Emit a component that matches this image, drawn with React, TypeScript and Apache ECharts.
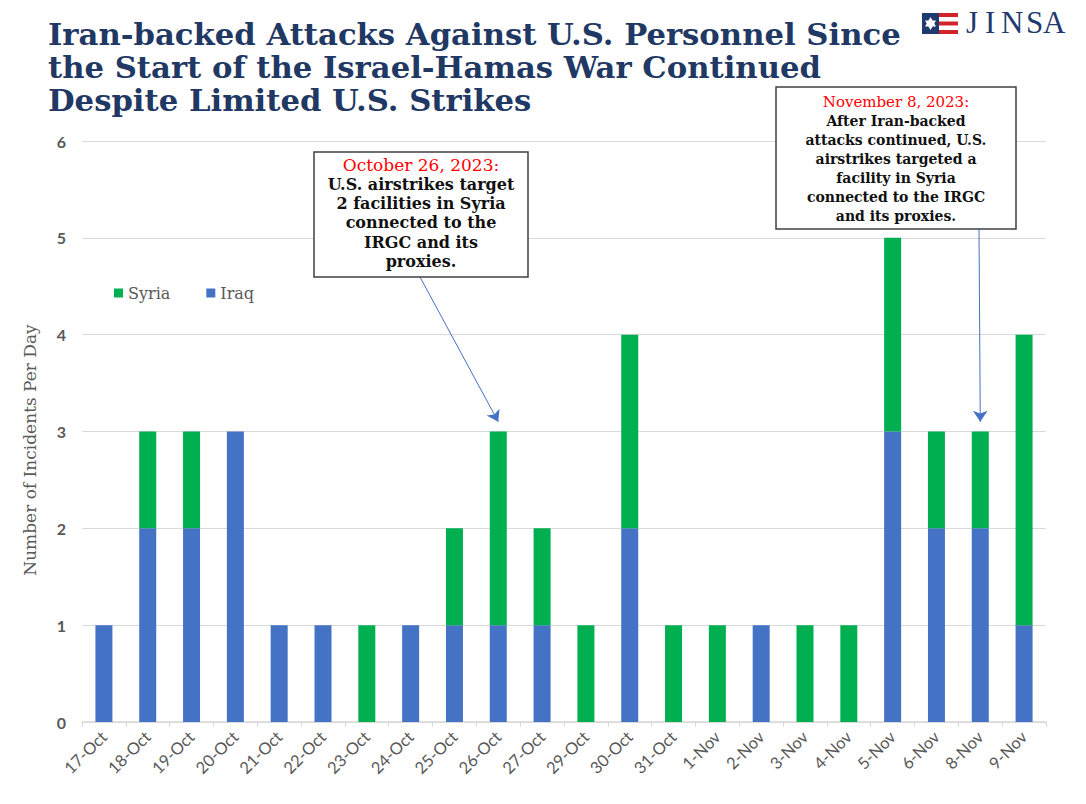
import React, { useEffect, useRef } from "react";
import * as echarts from "echarts";

const categories = ["17-Oct","18-Oct","19-Oct","20-Oct","21-Oct","22-Oct","23-Oct","24-Oct","25-Oct","26-Oct","27-Oct","29-Oct","30-Oct","31-Oct","1-Nov","2-Nov","3-Nov","4-Nov","5-Nov","6-Nov","8-Nov","9-Nov"];
const iraq = [1,2,2,3,1,1,0,1,1,1,1,0,2,0,0,1,0,0,3,2,2,1];
const syria = [0,1,1,0,0,0,1,0,1,2,1,1,2,1,1,0,1,1,2,1,1,3];
const yTicks = { min: 0, max: 6, interval: 1 };

const titleLines = [
  "Iran-backed Attacks Against U.S. Personnel Since",
  "the Start of the Israel-Hamas War Continued",
  "Despite Limited U.S. Strikes",
];
const yAxisName = "Number of Incidents Per Day";
const note1 = { date: "October 26, 2023:", lines: ["U.S. airstrikes target", "2 facilities in Syria", "connected to the", "IRGC and its", "proxies."], target: "26-Oct" };
const note2 = { date: "November 8, 2023:", lines: ["After Iran-backed", "attacks continued, U.S.", "airstrikes targeted a", "facility in Syria", "connected to the IRGC", "and its proxies."], target: "8-Nov" };

const IRAQ_COLOR = "#4472C4";
const SYRIA_COLOR = "#00B050";
const NAVY = "#1F3864";
const GRAY = "#595959";
const SERIF = "'DejaVu Serif', serif";

function noteText(n: { date: string; lines: string[] }) {
  return "{r|" + n.date + "}\n" + n.lines.map((l) => "{b|" + l + "}").join("\n");
}
function noteRich(size: number, lh: number) {
  return {
    r: { fill: "#FF0000", fontFamily: SERIF, fontSize: size + 1, fontWeight: "normal", lineHeight: lh },
    b: { fill: "#111111", fontFamily: SERIF, fontSize: size, fontWeight: "bold", lineHeight: lh },
  };
}

export default function App() {
  const ref = useRef<HTMLDivElement>(null);
  useEffect(() => {
    const chart = echarts.init(ref.current!, null, { renderer: "svg" });
    const graphic: any[] = [
      ...titleLines.map((t, i) => ({
        type: "text", left: 48, top: 18 + i * 33,
        style: { text: t, fill: NAVY, font: "bold 30.7px " + SERIF },
      })),
      // logo
      { type: "rect", shape: { x: 922, y: 13, width: 17, height: 21 }, style: { fill: "#1F3A6E" } },
      { type: "polygon", shape: { points: [[930.5, 17], [936, 26.5], [925, 26.5]] }, style: { fill: "#fff" } },
      { type: "polygon", shape: { points: [[930.5, 30], [936, 20.5], [925, 20.5]] }, style: { fill: "#fff" } },
      { type: "rect", shape: { x: 939, y: 13, width: 19, height: 4 }, style: { fill: "#D2232A" } },
      { type: "rect", shape: { x: 939, y: 21.5, width: 19, height: 4 }, style: { fill: "#D2232A" } },
      { type: "rect", shape: { x: 939, y: 30, width: 19, height: 4 }, style: { fill: "#D2232A" } },
      ...["J", "I", "N", "S", "A"].map((c, i) => ({
        type: "text", left: [966, 985, 1001, 1026, 1043][i], top: 7,
        style: { text: c, fill: "#1F3A6E", font: "normal 31px 'Liberation Serif', serif" },
      })),
      // y axis name
      {
        type: "text", x: 30, y: 450, rotation: Math.PI / 2,
        style: { text: yAxisName, fill: GRAY, font: "normal 17px " + SERIF, align: "center", verticalAlign: "middle" },
      },
      // annotation boxes
      { type: "rect", shape: { x: 314, y: 152, width: 214, height: 125 }, style: { fill: "#fff", stroke: "#404040", lineWidth: 1.5 }, z: 10 },
      { type: "text", x: 421, y: 155, z: 11, style: { text: noteText(note1), rich: noteRich(16, 19.4), align: "center", verticalAlign: "top" } },
      { type: "rect", shape: { x: 776, y: 87, width: 240, height: 142 }, style: { fill: "#fff", stroke: "#404040", lineWidth: 1.5 }, z: 10 },
      { type: "text", x: 896, y: 92, z: 11, style: { text: noteText(note2), rich: noteRich(14, 19), align: "center", verticalAlign: "top" } },
    ];
    chart.setOption({
      animation: false,
      backgroundColor: "#fff",
      grid: { left: 82, right: 40, top: 141, bottom: 82 },
      legend: {
        data: ["Syria", "Iraq"], left: 109, top: 280, icon: "rect", itemWidth: 9, itemHeight: 9, itemGap: 36,
        textStyle: { fontFamily: SERIF, fontSize: 16, color: GRAY },
      },
      xAxis: {
        type: "category", data: categories,
        axisLine: { lineStyle: { color: "#D9D9D9", width: 1.5 } },
        axisTick: { show: true, lineStyle: { color: "#D9D9D9" }, length: 5 },
        axisLabel: { rotate: 45, interval: 0, color: GRAY, fontFamily: "Lato", fontSize: 16.5, margin: 12 },
      },
      yAxis: {
        type: "value", ...yTicks,
        splitLine: { lineStyle: { color: "#D9D9D9", width: 1 } },
        axisLabel: { color: GRAY, fontFamily: "Lato", fontWeight: "bold", fontSize: 16, margin: 16 },
      },
      graphic,
      series: [
        {
          name: "Iraq", type: "bar", stack: "a", data: iraq, barWidth: 17,
          itemStyle: { color: IRAQ_COLOR },
          markLine: {
            silent: true, symbol: ["none", "arrow"], symbolSize: 11,
            lineStyle: { color: IRAQ_COLOR, width: 1, type: "solid" }, label: { show: false },
            emphasis: { disabled: true },
            data: [
              [{ x: 420, y: 277 }, { coord: [note1.target, 3.1] }],
              [{ x: 979, y: 229 }, { coord: [note2.target, 3.1] }],
            ],
          },
        },
        { name: "Syria", type: "bar", stack: "a", data: syria, barWidth: 17, itemStyle: { color: SYRIA_COLOR } },
      ],
    });
    return () => chart.dispose();
  }, []);
  return <div ref={ref} style={{ position: "fixed", left: 0, top: 0, width: 1086, height: 804 }} />;
}
